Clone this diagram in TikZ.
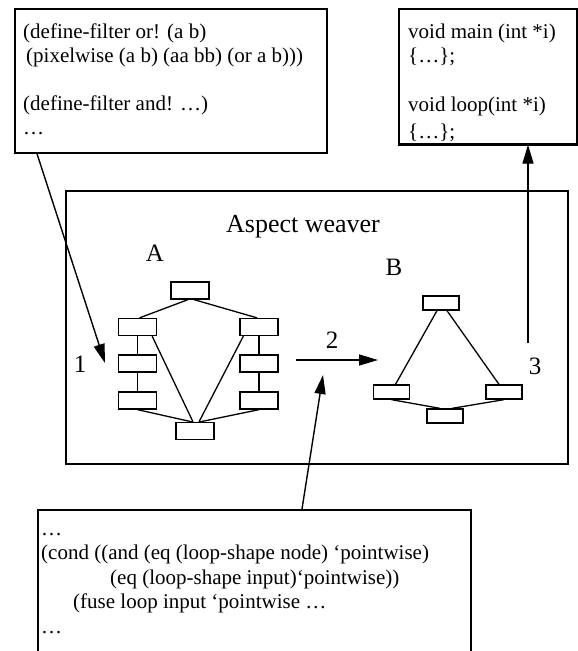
\documentclass[tikz,border=0pt]{standalone}
\usepackage{fontspec}
\setmainfont{Liberation Serif}
\usetikzlibrary{arrows.meta,calc}
\tikzset{
  frame/.style={draw, line width=1.7pt, fill=white, inner sep=0pt, anchor=north west},
  code/.style={anchor=base west, inner sep=0pt, font=\fontsize{21}{24}\selectfont},
  lab/.style={anchor=base, inner sep=0pt, font=\fontsize{25}{30}\selectfont},
  boxA/.style={draw, line width=1.3pt, fill=white, inner sep=0pt, minimum width=38pt, minimum height=17pt},
  boxB/.style={draw, line width=1.3pt, fill=white, inner sep=0pt, minimum width=36pt, minimum height=14pt},
  edge/.style={line width=1.3pt},
  flow/.style={line width=1.4pt, -{Triangle[length=19pt,width=11pt]}}
}
\begin{document}
\begin{tikzpicture}[x=1pt,y=-1pt]
\useasboundingbox (0,0) rectangle (578,651);
\clip (0,0) rectangle (578,651);
\fill[white] (0,0) rectangle (578,651);

% boxes
\node[frame, minimum width=312pt, minimum height=144pt] (codeA) at (14,8) {};
\node[frame, minimum width=178pt, minimum height=135pt] (codeC) at (398,8) {};
\node[frame, minimum width=502pt, minimum height=273pt] (weaver) at (65,190) {};
\node[frame, minimum width=433pt, minimum height=170pt] (aspect) at (37,509) {};

% text of the filter box
\node[code] (a1) at (23,38) {(define-filter or! (a b)};
\node[code] (a2) at (26,62) {(pixelwise (a b) (aa bb) (or a b)))};
\node[code] (a3) at (23,110) {(define-filter and! …)};
\node[code] (a4) at (23,134) {…};

% text of the C box
\begin{scope}
\clip (codeC.north west) rectangle (codeC.south east);
\node[code] (c1) at (408,38) {void main (int *i)};
\node[code] (c2) at (408,62) {\{…\};};
\node[code] (c3) at (408,111) {void loop(int *i)};
\node[code] (c4) at (408,138) {\{…\};};
\end{scope}
\draw[line width=1.7pt] (codeC.south west) -- (codeC.south east);

% text of the aspect box
\node[code] (s1) at (41,535) {…};
\node[code] (s2) at (41,559) {(cond ((and (eq (loop-shape node) ‘pointwise)};
\node[code] (s3) at (110,584) {(eq (loop-shape input)‘pointwise))};
\node[code] (s4) at (73,608) {(fuse loop input ‘pointwise …};
\node[code] (s5) at (41,633) {…};

% labels
\node[lab, font=\fontsize{26}{30}\selectfont] (title) at (303,232) {Aspect weaver};
\node[lab] (labA) at (155,261) {A};
\node[lab] (labB) at (394,275) {B};
\node[lab] (lab1) at (80,372) {1};
\node[lab] (lab2) at (332,348) {2};
\node[lab] (lab3) at (535,374) {3};

% graph A
\node[boxA] (r0) at (190,290.5) {};
\node[boxA] (L1) at (137.5,327) {};
\node[boxA] (L2) at (137.5,363.5) {};
\node[boxA] (L3) at (137.5,400.5) {};
\node[boxA] (R1) at (259,327) {};
\node[boxA] (R2) at (259,363.5) {};
\node[boxA] (R3) at (259,400.5) {};
\node[boxA] (Ab) at (195,431) {};
\draw[edge] ([xshift=-2pt]r0.south) -- ([xshift=2pt]L1.north);
\draw[edge] ([xshift=4pt]r0.south) -- ([xshift=-2pt]R1.north);
\draw[edge] (L1) -- (L2) (L2) -- (L3);
\draw[edge] (R1) -- (R2) (R2) -- (R3);
\draw[edge] ([xshift=-5pt]L1.south east) -- ([xshift=-2pt]Ab.north);
\draw[edge] ([xshift=4pt]R1.south west) -- ([xshift=4pt]Ab.north);
\draw[edge] (L3.south) -- ([xshift=-3pt]Ab.north);
\draw[edge] (R3.south) -- ([xshift=5pt]Ab.north);

% graph B
\node[boxB] (Bt) at (441,303) {};
\node[boxB] (Bl) at (391.5,392) {};
\node[boxB] (Br) at (504,392) {};
\node[boxB] (Bb) at (445,416) {};
\draw[edge] ([xshift=-4pt]Bt.south) -- ([xshift=4pt]Bl.north);
\draw[edge] ([xshift=6pt]Bt.south) -- ([xshift=-5pt]Br.north);
\draw[edge] (Bl.south) -- ([xshift=-5pt]Bb.north);
\draw[edge] (Br.south) -- ([xshift=7pt]Bb.north);

% flow arrows
\coordinate (p1) at (105,363);
\coordinate (q1) at (296,360);
\coordinate (q2) at (378,360);
\coordinate (p3) at (528,343);
\coordinate (p4) at (323,375);
\draw[flow] ([xshift=23pt]codeA.south west) -- (p1);
\draw[flow] (q1) -- (q2);
\draw[flow] (p3) -- (p3 |- codeC.south);
\draw[flow] (aspect.north -| 302,0) -- (p4);
\end{tikzpicture}
\end{document}
